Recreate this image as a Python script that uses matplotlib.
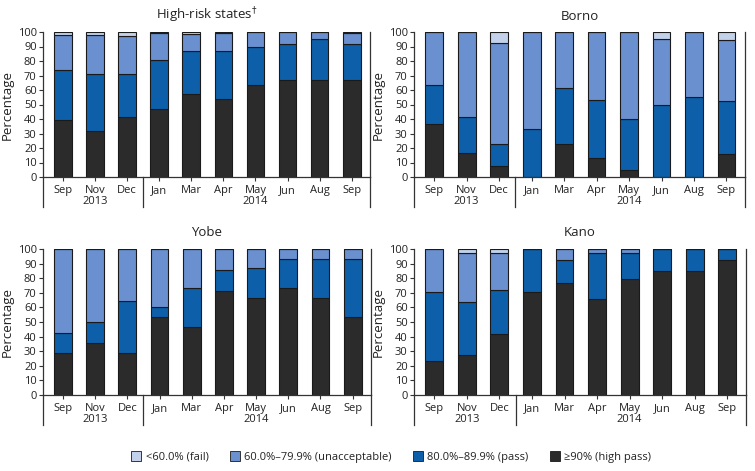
import matplotlib
matplotlib.use("Agg")
import matplotlib.pyplot as plt
import numpy as np
from matplotlib.patches import Patch
import matplotlib.transforms as mtransforms

plt.rcParams['font.family'] = ['Open Sans', 'DejaVu Sans']

months = ["Sep", "Nov", "Dec", "Jan", "Mar", "Apr", "May", "Jun", "Aug", "Sep"]
years = ["2013", "2014"]

# Segment values (percent) per category: high pass (>=90), pass, unacceptable, fail
hr_high = [39, 32, 41.5, 47, 57.5, 54, 63.5, 67, 67, 67]
hr_pass = [35, 39, 29.5, 34, 29.5, 33, 26.5, 25, 28, 25]
hr_unac = [24, 27, 26, 18.5, 11.5, 12.5, 9.7, 7.7, 4.7, 7.5]
hr_fail = [2, 2, 3, 0.5, 1.5, 0.5, 0.3, 0.3, 0.3, 0.5]

bo_high = [36.5, 16.5, 7.5, 0, 23, 13.3, 5, 0, 0, 15.8]
bo_pass = [27, 25, 15.5, 33.3, 38.5, 40, 35, 50, 55.5, 36.8]
bo_unac = [36.5, 58.5, 69.5, 66.7, 38.5, 46.7, 60, 45.5, 44.5, 42.1]
bo_fail = [0, 0, 7.5, 0, 0, 0, 0, 4.5, 0, 5.3]

yo_high = [28.5, 35.7, 28.5, 53.3, 46.7, 71.4, 66.7, 73.3, 66.7, 53.3]
yo_pass = [14.3, 14.3, 35.8, 6.7, 26.6, 14.3, 20, 20, 26.6, 40]
yo_unac = [57.2, 50, 35.7, 40, 26.7, 14.3, 13.3, 6.7, 6.7, 6.7]
yo_fail = [0, 0, 0, 0, 0, 0, 0, 0, 0, 0]

ka_high = [23.5, 27.5, 41.5, 70.5, 77, 66, 79.5, 84.6, 84.6, 92.3]
ka_pass = [47, 36.3, 30.5, 29.5, 15.3, 31.5, 18, 15.4, 15.4, 7.7]
ka_unac = [29.5, 33.7, 25.5, 0, 7.7, 2.5, 2.5, 0, 0, 0]
ka_fail = [0, 2.5, 2.5, 0, 0, 0, 0, 0, 0, 0]

legend_labels = ["<60.0% (fail)", "60.0%\u201379.9% (unacceptable)",
                 "80.0%\u201389.9% (pass)", "\u226590% (high pass)"]
colors = {"fail": "#c3d2ea", "unac": "#6a90cf", "pass": "#0d5fa9", "high": "#2b2b2b"}

panels = [
    (r"High-risk states$^{\dagger}$", hr_high, hr_pass, hr_unac, hr_fail),
    ("Borno", bo_high, bo_pass, bo_unac, bo_fail),
    ("Yobe", yo_high, yo_pass, yo_unac, yo_fail),
    ("Kano", ka_high, ka_pass, ka_unac, ka_fail),
]

W, H = 755, 471
fig = plt.figure(figsize=(W / 100, H / 100), dpi=100)

boxes = [(43, 32, 327, 145), (414, 32, 331, 145), (43, 249, 328, 146), (414, 249, 332, 146)]

for (title, hi, pa, un, fa), (x0, y0, w, h) in zip(panels, boxes):
    ax = fig.add_axes([x0 / W, 1 - (y0 + h) / H, w / W, h / H])
    x = np.arange(len(months))
    hi = np.array(hi); pa = np.array(pa); un = np.array(un); fa = np.array(fa)
    kw = dict(width=0.55, edgecolor="#1a1a1a", linewidth=0.8)
    ax.bar(x, hi, color=colors["high"], **kw)
    ax.bar(x, pa, bottom=hi, color=colors["pass"], **kw)
    ax.bar(x, un, bottom=hi + pa, color=colors["unac"], **kw)
    ax.bar(x, fa, bottom=hi + pa + un, color=colors["fail"], **kw)
    ax.set_xlim(-0.62, 9.57)
    ax.set_ylim(0, 100)
    ax.set_yticks(np.arange(0, 101, 10))
    ax.set_xticks(x)
    ax.set_xticklabels(months)
    ax.tick_params(axis="both", labelsize=8, colors="#333333", labelcolor="#222222",
                   length=3, width=0.8, direction="out")
    ax.tick_params(axis="x", pad=2.5)
    ax.tick_params(axis="y", pad=1.5)
    ax.spines["top"].set_visible(False)
    for s in ["left", "right", "bottom"]:
        ax.spines[s].set_color("#333333")
        ax.spines[s].set_linewidth(0.9)
    ax.set_ylabel("Percentage", fontsize=9.5, color="#222222", labelpad=3)
    ax.set_title(title, fontsize=9.5, color="#222222", pad=9)
    trans = mtransforms.blended_transform_factory(ax.transData, ax.transAxes)
    drop = -30 / h
    for xv in [-0.62, 2.5, 9.57]:
        ax.plot([xv, xv], [0, drop], transform=trans, color="#333333", lw=0.9, clip_on=False)
    ax.text(1, -25 / h, years[0], transform=trans, ha="center", va="center", fontsize=8, color="#222222")
    ax.text(6, -25 / h, years[1], transform=trans, ha="center", va="center", fontsize=8, color="#222222")

handles = [Patch(facecolor=colors[k], edgecolor="#1a1a1a", linewidth=0.6)
           for k in ["fail", "unac", "pass", "high"]]
fig.legend(handles, legend_labels, loc="center", bbox_to_anchor=(0.518, 1 - 457 / H), ncol=4,
           frameon=False, fontsize=8, handlelength=0.9, handleheight=0.9, handletextpad=0.4,
           columnspacing=1.9, labelcolor="#222222")

fig.savefig("out.png", dpi=100)
